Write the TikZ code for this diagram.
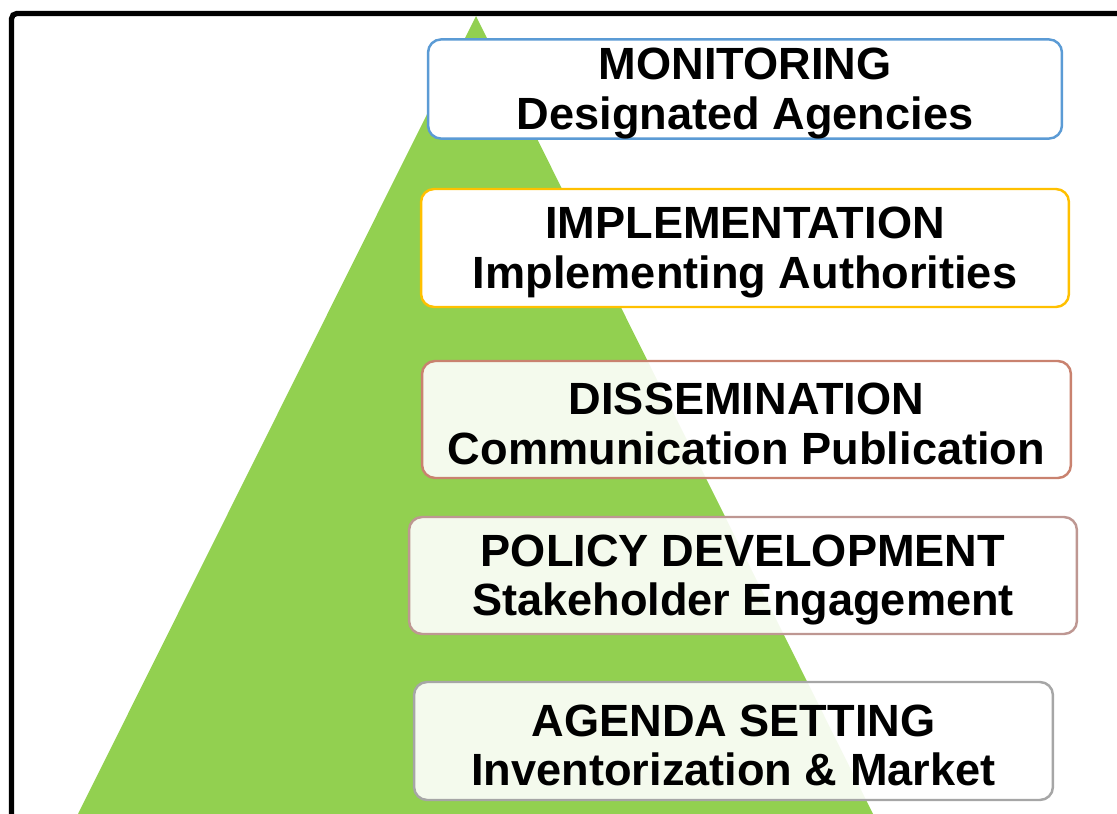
\documentclass[tikz,border=0pt]{standalone}
\usepackage{fontspec}
\setmainfont{Liberation Sans}
\usepackage{xcolor}
\usetikzlibrary{positioning}
\definecolor{cpyramid}{HTML}{92D050}
\definecolor{cmon}{HTML}{5B9BD5}
\definecolor{cimp}{HTML}{FFC000}
\definecolor{cdis}{HTML}{C9826F}
\definecolor{cpol}{HTML}{BE9792}
\definecolor{cagn}{HTML}{A6A6A6}
\newcommand{\topstrut}{\rule{0pt}{23pt}}

\begin{document}
\begin{tikzpicture}[
  x=0.02cm, y=-0.02cm,
  font=\fontsize{25.7}{28}\selectfont\bfseries,
  level/.style={rectangle, rounded corners=0.26cm, line width=1.4pt,
                fill=white, align=center, inner sep=0pt},
  faded/.style={fill opacity=0.9, text opacity=1}
]
\useasboundingbox (0,0) rectangle (1117,814);

% Frame
\draw[line width=3pt, rounded corners=3pt] (11.5,820) -- (11.5,13.5) -- (1125,13.5);

% Pyramid
\fill[cpyramid] (476,16) -- (873,814) -- (78,814) -- cycle;

% Levels, top to bottom
\node[level, draw=cmon, minimum width=12.68cm, minimum height=1.96cm]
  (mon) at (745,89) {\topstrut MONITORING\\Designated Agencies};
\node[level, draw=cimp, minimum width=12.96cm, minimum height=2.36cm]
  (imp) at (745,248) {\topstrut IMPLEMENTATION\\Implementing Authorities};
\node[level, faded, draw=cdis, minimum width=12.98cm, minimum height=2.34cm]
  (dis) at (746.5,419.5) {\topstrut DISSEMINATION\\Communication Publication};
\node[level, faded, draw=cpol, minimum width=13.36cm, minimum height=2.34cm]
  (pol) at (743,575.5) {\topstrut POLICY DEVELOPMENT\\Stakeholder Engagement};
\node[level, faded, draw=cagn, minimum width=12.78cm, minimum height=2.36cm]
  (agn) at (733.5,741) {\topstrut AGENDA SETTING\\Inventorization \& Market};

\end{tikzpicture}
\end{document}
